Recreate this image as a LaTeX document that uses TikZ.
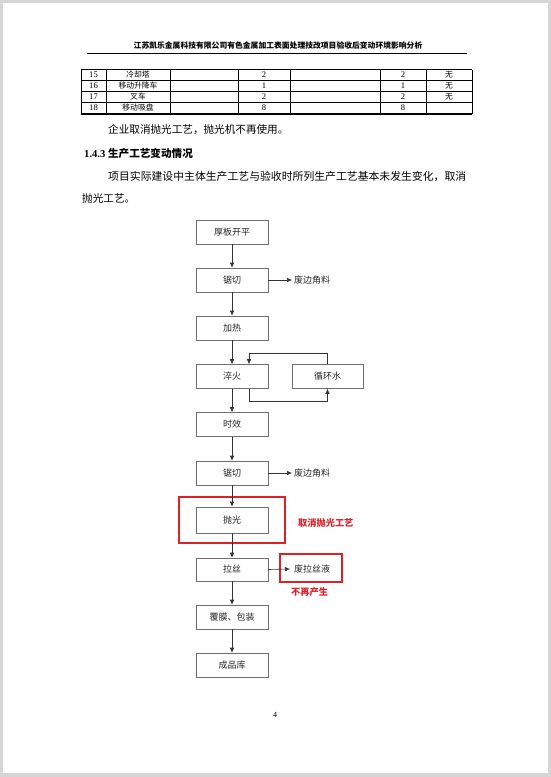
\documentclass[tikz,border=0pt]{standalone}
\usepackage{fontspec}
\setmainfont{Liberation Serif}
\newfontfamily\cjk{Noto Sans CJK SC}
\usetikzlibrary{arrows.meta}
\definecolor{markred}{RGB}{222,32,40}
\definecolor{boxline}{RGB}{110,110,110}
\tikzset{
  procbox/.style={draw=boxline, line width=0.6pt, minimum width=72pt, minimum height=24pt, inner sep=0pt,
    font=\cjk\fontsize{9}{10}\selectfont, text=black!85},
  sidetext/.style={inner sep=2pt, font=\cjk\fontsize{9}{10}\selectfont, text=black!85},
  flow/.style={draw=black!80, line width=0.6pt, -{Latex[length=5pt,width=4.5pt]}},
  redframe/.style={draw=markred, line width=2.8pt, inner sep=0pt},
  rednote/.style={text=markred, inner sep=0pt, font=\cjk\bfseries\fontsize{9.2}{10}\selectfont},
  tcell/.style={inner sep=0pt, font=\fontsize{8.6}{9}\selectfont},
  tcellc/.style={inner sep=0pt, font=\cjk\fontsize{7.8}{9}\selectfont},
  bodytext/.style={inner sep=0pt, anchor=west, font=\cjk\fontsize{10.6}{12}\selectfont},
}
\begin{document}
\begin{tikzpicture}[x=1pt,y=-1pt]
% page
\fill[gray!32] (0,0) rectangle (551,777);
\fill[white] (3,3) rectangle (548,773);
\useasboundingbox (0,0) rectangle (551,777);
% header
\node[inner sep=0pt, font=\cjk\bfseries\fontsize{7.8}{9}\selectfont] (hdr) at (278,46) {江苏凯乐金属科技有限公司有色金属加工表面处理技改项目验收后变动环境影响分析};
\draw[line width=0.6pt] (87,53) -- (467,53);
% table
\draw[line width=1.1pt] (81,69.5) -- (472,69.5);
\draw[line width=1.1pt] (81,114) -- (472,114);
\foreach \yy in {80.5,91.5,102.5} \draw[line width=0.5pt] (81,\yy) -- (472,\yy);
\foreach \xx in {81,106,170,238,290,380,426,472} \draw[line width=0.5pt] (\xx,69.5) -- (\xx,114);
\foreach \n/\name/\a/\b/\c [count=\i] in {15/冷却塔/2/2/无,16/移动升降车/1/1/无,17/叉车/2/2/无,18/移动吸盘/8/8/{}}{
  \pgfmathsetmacro{\yc}{64+11*\i}
  \node[tcell] (tn\i) at (93.5,\yc) {\n};
  \node[tcellc] (tm\i) at (138,\yc) {\name};
  \node[tcell] (ta\i) at (264,\yc) {\a};
  \node[tcell] (tb\i) at (403,\yc) {\b};
  \node[tcellc] (tc\i) at (449,\yc) {\c};
}
% body text
\node[bodytext] (p1) at (108,130) {企业取消抛光工艺，抛光机不再使用。};
\node[inner sep=0pt, anchor=west] (h1) at (84,153) {\fontsize{10.6}{12}\selectfont\bfseries 1.4.3 \cjk\bfseries 生产工艺变动情况};
\node[inner sep=0pt, anchor=west, font=\cjk\fontsize{10.85}{12}\selectfont] (p2) at (108,176) {项目实际建设中主体生产工艺与验收时所列生产工艺基本未发生变化，取消};
\node[bodytext] (p3) at (82,198) {抛光工艺。};
% flowchart
\node[procbox] (b1) at (232,232) {厚板开平};
\node[procbox] (b2) at (232,280) {锯切};
\node[procbox] (b3) at (232,328) {加热};
\node[procbox] (b4) at (232,376.5) {淬火};
\node[procbox, minimum width=71pt] (w) at (327.5,376.5) {循环水};
\node[procbox] (b5) at (232,424.5) {时效};
\node[procbox] (b6) at (232,473) {锯切};
\node[procbox, minimum height=26pt] (b7) at (232,520) {抛光};
\node[procbox, minimum height=23pt] (b8) at (232,569.5) {拉丝};
\node[procbox] (b9) at (232,617) {覆膜、包装};
\node[procbox] (b10) at (232,665) {成品库};
\node[sidetext, anchor=west] (s1) at (292,280) {废边角料};
\node[sidetext, anchor=west] (s2) at (292,473) {废边角料};
\node[sidetext, anchor=west, inner sep=4pt] (s3) at (290,569) {废拉丝液};
\node[redframe, minimum width=106pt, minimum height=46pt] (r1) at (232,520) {};
\node[redframe, minimum width=62pt, minimum height=28pt] (r2) at (311,568) {};
\node[rednote, anchor=west] (n1) at (298,523) {取消抛光工艺};
\node[rednote, anchor=west] (n2) at (291,592) {不再产生};
\draw[flow] (b1) -- (b2);
\draw[flow] (b2) -- (b3);
\draw[flow] (b3) -- (b4);
\draw[flow] (b4) -- (b5);
\draw[flow] (b5) -- (b6);
\draw[flow] (b6) -- (b7);
\draw[flow] (b7) -- (b8);
\draw[flow] (b8) -- (b9);
\draw[flow] (b9) -- (b10);
\draw[flow] (b2.east) -- (s1.west);
\draw[flow] (b6.east) -- (s2.west);
\draw[flow] (b8.east) -- (s3.west);
\draw[flow] (w.north) -- ++(0,-11) -| ([xshift=17pt]b4.north);
\draw[flow] ([xshift=17pt]b4.south) -- ++(0,12) -| (w.south);
% page number
\node[inner sep=0pt, font=\fontsize{8}{9}\selectfont] (pg) at (275,715) {4};
\end{tikzpicture}
\end{document}
